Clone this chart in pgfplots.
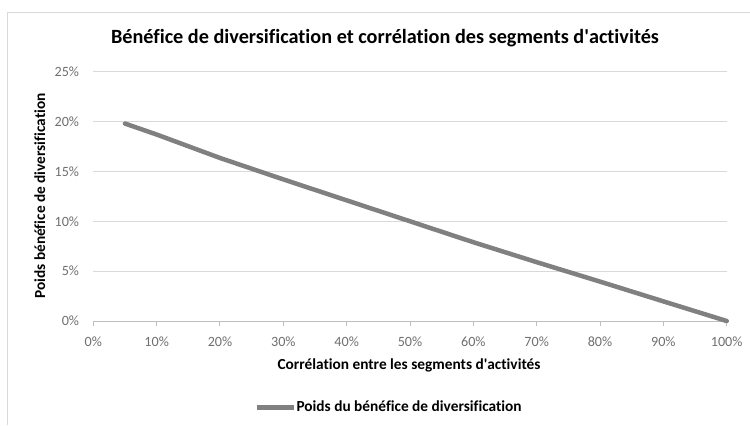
\documentclass[border=0pt]{standalone}
\usepackage{pgfplots}
\pgfplotsset{compat=1.18}
\usepackage{fontspec}
\setmainfont{Carlito}[Ligatures=NoCommon]
\definecolor{gridc}{HTML}{D9D9D9}
\definecolor{axc}{HTML}{BFBFBF}
\definecolor{tickc}{HTML}{6F6F6F}
\definecolor{linec}{HTML}{808080}
\begin{document}
\begin{tikzpicture}[x=1bp,y=1bp]
\useasboundingbox (0,0) rectangle (750,425);
\draw[gridc, line width=1bp] (7.5,0) -- (7.5,412) -- (750,412);
\node[font=\bfseries\fontsize{20.3}{24}\selectfont, anchor=base, inner sep=0pt] at (385,381.7) {Bénéfice de diversification et corrélation des segments d\textquotesingle activités};
\node[font=\bfseries\fontsize{15.4}{18}\selectfont, anchor=base, inner sep=0pt] at (409,55.7) {Corrélation entre les segments d\textquotesingle activités};
\node[font=\bfseries\fontsize{15.4}{18}\selectfont, anchor=base, inner sep=0pt, rotate=90] at (45,229) {Poids bénéfice de diversification};
\begin{axis}[
  at={(93.3bp,104bp)}, anchor=south west,
  scale only axis, width=633.4bp, height=249.3bp,
  xmin=0, xmax=100, ymin=0, ymax=25,
  xtick={0,10,...,100}, ytick={0,5,...,25},
  axis x line=bottom, axis y line=left,
  x axis line style={draw=axc, line width=1bp, -},
  y axis line style={draw=none, -},
  xtick style={draw=axc, line width=1bp},
  ytick style={draw=none},
  tick align=outside, major tick length=5bp,
  ymajorgrids, grid style={gridc, line width=1bp},
  tick label style={font=\fontsize{14.2}{16}\selectfont, text=tickc, inner sep=0pt},
  /pgf/number format/assume math mode=true,
  xticklabel={\pgfmathprintnumber{\tick}\%},
  yticklabel={\pgfmathprintnumber{\tick}\%},
  xticklabel style={anchor=base, yshift=-20.5bp},
  yticklabel style={anchor=east, xshift=-9bp},
  legend style={draw=none, fill=none, inner sep=0pt, outer sep=0pt,
    nodes={inner sep=0pt}, font=\bfseries\fontsize{15.4}{18}\selectfont,
    at={(axis description cs:0.2553,-0.3462)}, anchor=west},
  legend image code/.code={\draw[#1, line width=4.5bp, line cap=butt] (0bp,0bp) -- (37bp,0bp);},
  clip=false,
]
\addplot[linec, line width=4.5bp, line cap=round, line join=round] coordinates {
  (5,19.8) (10,18.7) (20,16.35) (30,14.2) (40,12.1) (50,10.0)
  (60,7.9) (70,5.9) (80,3.95) (90,1.97) (100,0)
};
\addlegendentry{Poids du bénéfice de diversification}
\end{axis}
\end{tikzpicture}
\end{document}
